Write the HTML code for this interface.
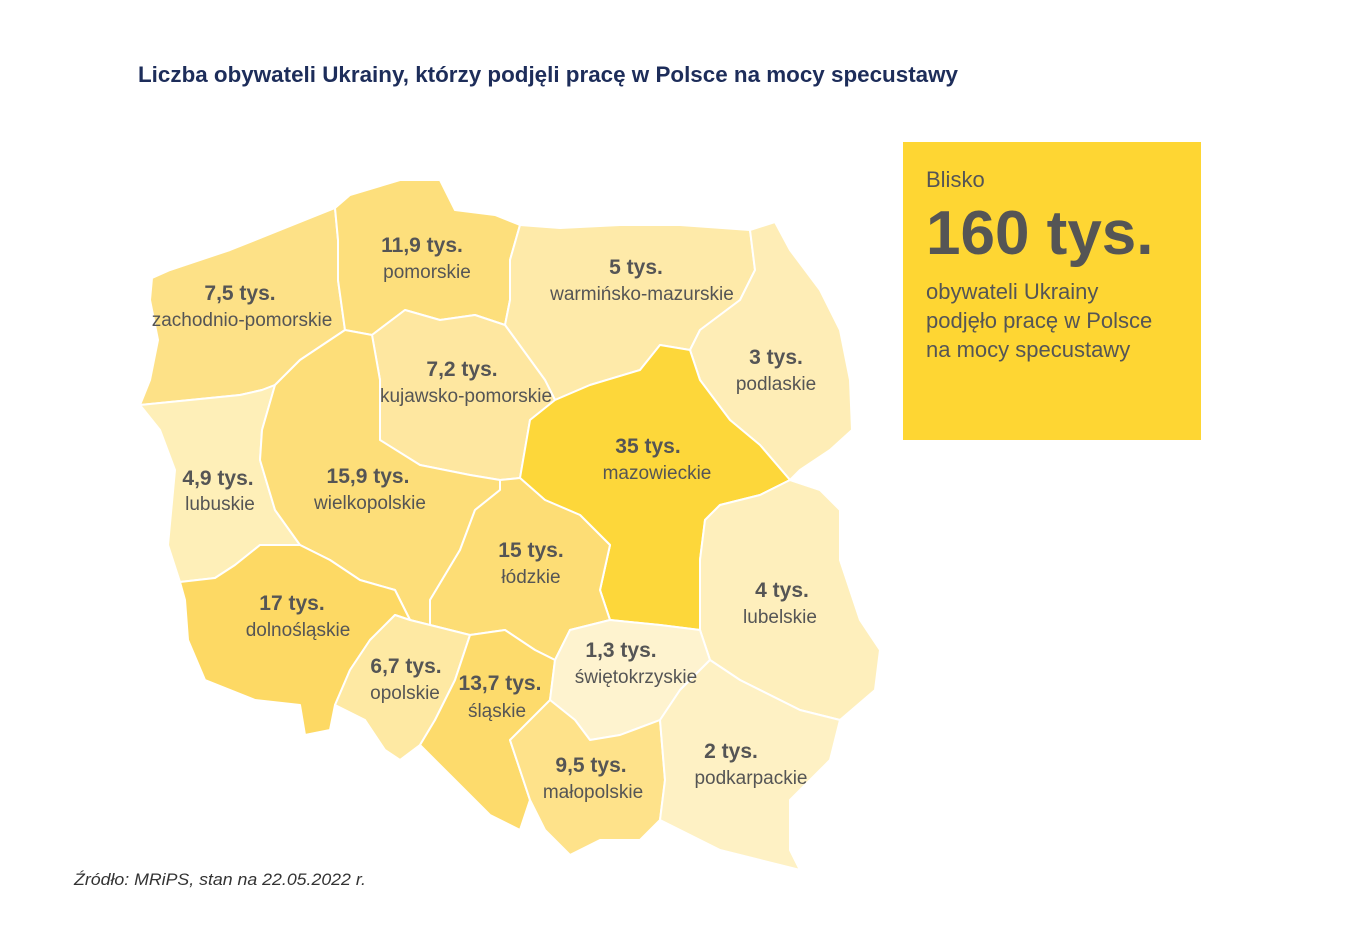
<!DOCTYPE html>
<html><head><meta charset="utf-8"><style>
body{margin:0;background:#fff;width:1366px;height:937px;overflow:hidden;font-family:"Liberation Sans",sans-serif;}
</style></head><body>
<svg width="1366" height="937" xmlns="http://www.w3.org/2000/svg" style="position:absolute;left:0;top:0">
<text x="138" y="82" font-size="22" font-weight="bold" fill="#1d2d5a" font-family="Liberation Sans" textLength="820" lengthAdjust="spacingAndGlyphs">Liczba obywateli Ukrainy, którzy podjęli pracę w Polsce na mocy specustawy</text>
<g stroke="#fff" stroke-width="2" stroke-linejoin="round">
<polygon fill="#FDE187" points="152,278 170,270 230,250 310,218 335,208 338,240 338,280 345,330 300,360 275,385 262,390 240,395 140,405 150,380 158,340 150,300"/>
<polygon fill="#FDDF7C" points="335,208 350,195 400,180 440,180 455,210 495,215 520,225 510,260 510,300 505,325 475,315 440,320 405,310 372,335 345,330 338,280 338,240"/>
<polygon fill="#FEEAA9" points="520,225 560,228 620,225 680,225 750,230 755,270 740,300 700,330 690,350 660,345 640,370 590,385 555,400 545,380 505,325 510,300 510,260"/>
<polygon fill="#FEEDB6" points="750,230 775,222 790,250 820,290 840,330 850,380 852,430 830,450 800,470 790,480 760,445 730,420 700,380 690,350 700,330 740,300 755,270"/>
<polygon fill="#FEE7A0" points="372,335 405,310 440,320 475,315 505,325 545,380 555,400 530,420 520,478 500,480 470,475 420,465 380,440 380,380"/>
<polygon fill="#FEEFB8" points="140,405 240,395 262,390 275,385 262,430 260,460 275,510 300,545 260,545 235,565 215,578 180,582 168,545 175,470 160,430"/>
<polygon fill="#FDDE79" points="345,330 372,335 380,380 380,440 420,465 470,475 500,480 500,490 475,510 460,550 430,600 430,625 410,620 395,590 360,580 330,560 300,545 275,510 260,460 262,430 275,385 300,360"/>
<polygon fill="#FDD73A" points="520,478 530,420 555,400 590,385 640,370 660,345 690,350 700,380 730,420 760,445 790,480 760,495 720,505 705,520 700,560 700,630 660,625 610,620 600,590 610,545 580,515 545,500"/>
<polygon fill="#FDDD75" points="500,480 520,478 545,500 580,515 610,545 600,590 610,620 570,630 555,660 535,650 505,630 470,635 430,625 430,600 460,550 475,510 500,490"/>
<polygon fill="#FDD964" points="180,582 215,578 235,565 260,545 300,545 330,560 360,580 395,590 410,620 395,615 370,640 350,670 335,705 330,730 305,735 300,705 255,700 205,680 188,640 185,600"/>
<polygon fill="#FEE9A3" points="410,620 430,625 470,635 455,680 435,720 420,745 400,760 385,750 365,720 335,705 350,670 370,640 395,615"/>
<polygon fill="#FDDB6C" points="470,635 505,630 535,650 555,660 550,700 540,720 510,740 530,800 520,830 490,815 450,775 420,745 435,720 455,680"/>
<polygon fill="#FEEFBC" points="790,480 820,490 840,510 840,560 860,620 880,650 875,690 840,720 800,710 740,680 710,660 700,630 700,560 705,520 720,505 760,495"/>
<polygon fill="#FEF3CF" points="555,660 570,630 610,620 660,625 700,630 710,660 680,690 660,720 620,735 590,740 575,720 550,700"/>
<polygon fill="#FEE28A" points="510,740 550,700 575,720 590,740 620,735 660,720 665,780 660,820 640,840 600,840 570,855 545,830 530,800"/>
<polygon fill="#FEF1C4" points="660,720 680,690 710,660 740,680 800,710 840,720 830,760 790,800 790,850 800,870 760,860 720,850 680,830 660,820 665,780"/>
</g>
<g fill="#555" font-family="Liberation Sans" text-anchor="middle">
<g font-size="21" font-weight="bold">
<text x="240" y="300">7,5 tys.</text><text x="422" y="252">11,9 tys.</text><text x="636" y="274">5 tys.</text>
<text x="776" y="364">3 tys.</text><text x="462" y="376">7,2 tys.</text><text x="648" y="453">35 tys.</text>
<text x="218" y="485">4,9 tys.</text><text x="368" y="483">15,9 tys.</text><text x="531" y="557">15 tys.</text>
<text x="782" y="597">4 tys.</text><text x="292" y="610">17 tys.</text><text x="621" y="657">1,3 tys.</text>
<text x="406" y="673">6,7 tys.</text><text x="500" y="690">13,7 tys.</text><text x="731" y="758">2 tys.</text>
<text x="591" y="772">9,5 tys.</text>
</g>
<g font-size="19">
<text x="242" y="326">zachodnio-pomorskie</text><text x="427" y="278">pomorskie</text><text x="642" y="300">warmińsko-mazurskie</text>
<text x="776" y="390">podlaskie</text><text x="466" y="402">kujawsko-pomorskie</text><text x="657" y="479">mazowieckie</text>
<text x="220" y="510">lubuskie</text><text x="370" y="509">wielkopolskie</text><text x="531" y="583">łódzkie</text>
<text x="780" y="623">lubelskie</text><text x="298" y="636">dolnośląskie</text><text x="636" y="683">świętokrzyskie</text>
<text x="405" y="699">opolskie</text><text x="497" y="717">śląskie</text><text x="751" y="784">podkarpackie</text>
<text x="593" y="798">małopolskie</text>
</g></g>
<rect x="903" y="142" width="298" height="298" fill="#FED633"/>
<g fill="#555" font-family="Liberation Sans">
<text x="926" y="187" font-size="22">Blisko</text>
<text x="926" y="254" font-size="62" font-weight="bold">160 tys.</text>
<text x="926" y="299" font-size="22">obywateli Ukrainy</text>
<text x="926" y="328" font-size="22">podjęło pracę w Polsce</text>
<text x="926" y="357" font-size="22">na mocy specustawy</text>
</g>
<text x="74" y="885" font-size="17" font-style="italic" fill="#333" font-family="Liberation Sans" textLength="292" lengthAdjust="spacingAndGlyphs">Źródło: MRiPS, stan na 22.05.2022 r.</text>
</svg>
</body></html>
